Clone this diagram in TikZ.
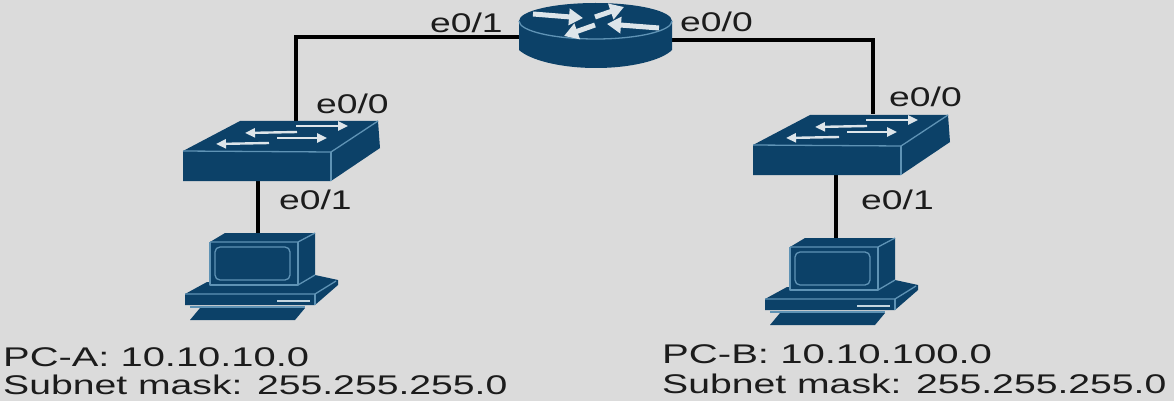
\documentclass[tikz,border=0pt]{standalone}
\usepackage{fontspec}
\setmainfont{Liberation Sans}
\usetikzlibrary{arrows.meta}
\definecolor{bgc}{HTML}{DBDBDB}
\definecolor{dev}{HTML}{0C4168}
\definecolor{edge}{HTML}{5F93B5}
\definecolor{mark}{HTML}{DDE5EA}
\definecolor{ink}{HTML}{1C1C1C}
\newcommand{\lbl}[2][1.38]{\scalebox{#1}[1]{\fontsize{27}{27}\selectfont #2}}
\tikzset{
  devbox/.style={inner sep=0pt,outer sep=0pt,minimum height=2pt},
  wire/.style={line width=4pt,black,line join=miter},
  txt/.style={inner sep=0pt,anchor=west,text=ink},
  devfill/.style={fill=dev,draw=none},
  devline/.style={draw=edge,line width=1.3pt,line join=round},
  swarrow/.style={draw=mark,line width=2.4pt,-{Triangle[width=9pt,length=10pt,fill=mark]}},
  rtarrow/.style={draw=mark,line width=5pt,-{Triangle[width=16pt,length=14pt,fill=mark]}}
}
\newcommand{\switchicon}[2]{%
  \begin{scope}[shift={(#1,#2)}]
    \fill[devfill] (183,151) -- (240,121) -- (378,121) -- (380,148) -- (331,181) -- (183,181) -- cycle;
    \draw[devline] (183,151) -- (331,152) -- (378,121);
    \draw[devline] (331,152) -- (331,181);
    \draw[swarrow] (296,126) -- (348,126);
    \draw[swarrow] (297,132) -- (245,133);
    \draw[swarrow] (277,138) -- (327,138);
    \draw[swarrow] (269,143) -- (216,144);
  \end{scope}}
\newcommand{\pcicon}[2]{%
  \begin{scope}[shift={(#1,#2)}]
    \fill[devfill] (190,320) -- (200,308) -- (305,308) -- (295,320) -- cycle;
    \fill[devfill] (185,294) -- (207,282) -- (210,282) -- (210,242) -- (225,233) -- (315,233) -- (315,275) -- (338,280) -- (338,285) -- (315,305) -- (185,305) -- cycle;
    \draw[devline] (210,242) -- (298,242) -- (315,233);
    \draw[devline] (298,242) -- (298,285) -- (210,285) -- (210,242);
    \draw[devline] (298,285) -- (315,275);
    \draw[devline,rounded corners=5pt] (215,247) rectangle (290,280);
    \draw[devline] (185,294) -- (315,294) -- (336,281);
    \draw[devline] (315,294) -- (315,305);
    \draw[devline] (190,307) -- (305,307);
    \draw[draw=mark!80!edge,line width=1.6pt] (277,301) -- (310,301);
  \end{scope}}
\begin{document}
\begin{tikzpicture}[x=1pt,y=-1pt]
  \useasboundingbox (0,0) rectangle (1174,401);
  \fill[bgc] (0,0) rectangle (1174,401);
  % anchor nodes of the devices
  \node[devbox,minimum width=153pt] (router) at (595.5,38.5) {};
  \node[devbox,minimum width=197pt,minimum height=60pt] (swA) at (281.5,151) {};
  \node[devbox,minimum width=197pt,minimum height=61pt] (swB) at (851.5,144.5) {};
  \node[devbox,minimum width=153pt,minimum height=87pt] (pcA) at (261.5,276.5) {};
  \node[devbox,minimum width=153pt,minimum height=87pt] (pcB) at (841.5,281.5) {};
  % connectors
  \draw[wire] ([yshift=1.5pt]router.west) -| ([xshift=14.5pt]swA.north);
  \draw[wire] ([yshift=-1.5pt]router.east) -| ([xshift=21.5pt]swB.north);
  \draw[wire] ([xshift=-23.5pt]swA.south) -- ([xshift=-3.5pt]pcA.north);
  \draw[wire] ([xshift=-15.5pt]swB.south) -- ([xshift=-5.5pt]pcB.north);
  % router
  \fill[devfill] (519,21) -- (519,50) .. controls (530,60) and (560,68) .. (596,68) .. controls (632,68) and (662,60) .. (672,50) -- (672,21) -- cycle;
  \fill[devfill] (595.5,21) ellipse [x radius=76.5, y radius=18];
  \draw[devline] (519,21) arc [start angle=180, end angle=360, x radius=76.5, y radius=-18];
  \draw[rtarrow] (533,14) -- (583,18);
  \draw[rtarrow] (595,17) -- (624,7);
  \draw[rtarrow] (659,28) -- (607,24);
  \draw[rtarrow] (595,25) -- (564,36);
  % switches and PCs
  \switchicon{0}{0}
  \switchicon{570}{-6}
  \pcicon{0}{0}
  \pcicon{580}{5}
  % labels
  \node[txt] (l1) at (430,23) {\lbl{e0/1}};
  \node[txt] (l2) at (680,22) {\lbl{e0/0}};
  \node[txt] (l3) at (316,104) {\lbl{e0/0}};
  \node[txt] (l4) at (279,200) {\lbl{e0/1}};
  \node[txt] (l5) at (889,97) {\lbl{e0/0}};
  \node[txt] (l6) at (861,200) {\lbl{e0/1}};
  \node[txt] (l7) at (3,357) {\lbl[1.477]{PC-A: 10.10.10.0}};
  \node[txt] (l8) at (3,385) {\lbl[1.45]{Subnet mask: 255.255.255.0}};
  \node[txt] (l9) at (662,354) {\lbl[1.485]{PC-B: 10.10.100.0}};
  \node[txt] (l10) at (662,384) {\lbl[1.45]{Subnet mask: 255.255.255.0}};
\end{tikzpicture}
\end{document}
